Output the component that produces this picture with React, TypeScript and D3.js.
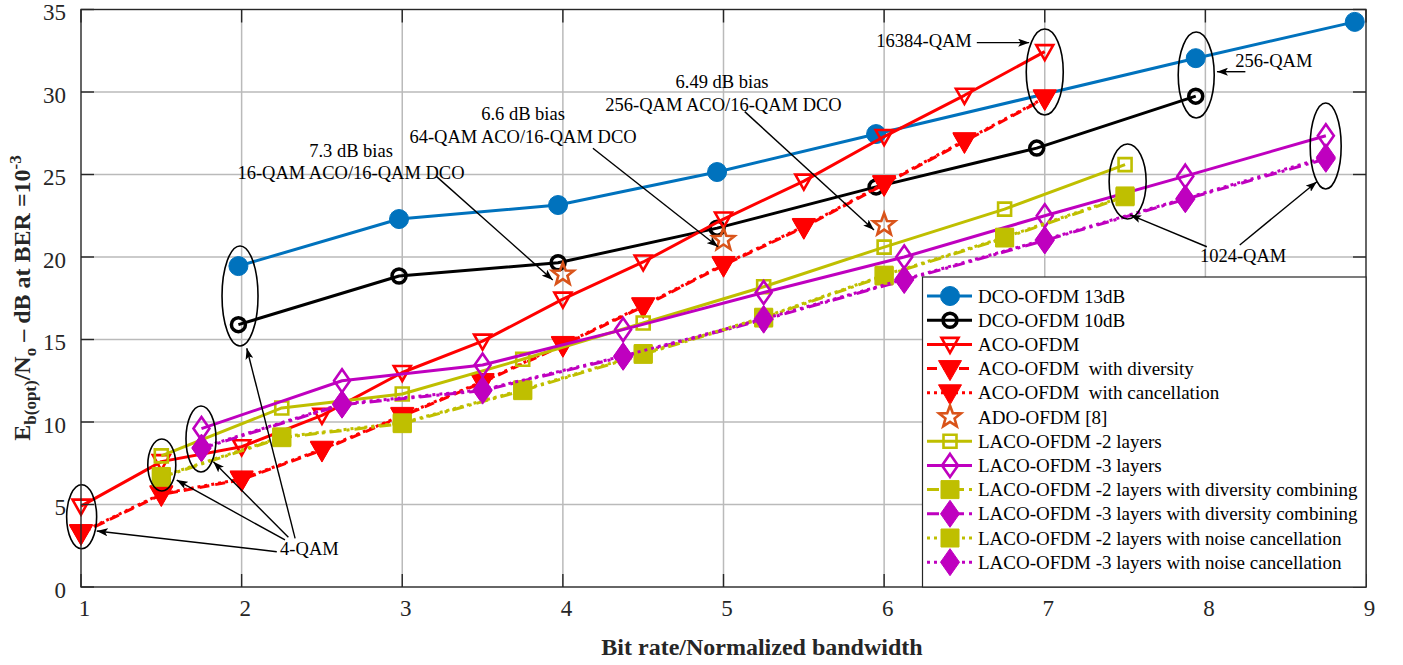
import React, { useEffect, useRef } from "react";
import { line, path, scaleLinear, ScaleLinear, select, Selection } from "d3";

const WIDTH = 1403;
const HEIGHT = 665;
const PLOT_LEFT = 81;
const PLOT_RIGHT = 1366;
const PLOT_TOP = 9.5;
const PLOT_BOTTOM = 587;
const TICK_LEN = 13;
const SERIES_WIDTH = 3;
const FONT = "'Liberation Serif', 'Times New Roman', serif";
const AXIS_COLOR = "#262626";
const GRID_COLOR = "#bababa";

const BLUE = "#0072BD";
const BLACK = "#000000";
const RED = "#FF0000";
const ORANGE = "#D95319";
const OLIVE = "#BFBF00";
const MAGENTA = "#BF00BF";

const X_DOMAIN = [1, 9];
const Y_DOMAIN = [0, 35];
const X_TICKS = [1, 2, 3, 4, 5, 6, 7, 8, 9];
const Y_TICKS = [0, 5, 10, 15, 20, 25, 30, 35];

// bit rates
const dco13X = [1.98, 2.98, 3.97, 4.96, 5.95, 7.94, 8.93];
const dco10X = [1.98, 2.98, 3.97, 4.96, 5.95, 6.95, 7.94];
const acoX = [1, 1.5, 2, 2.5, 3, 3.5, 4, 4.5, 5, 5.5, 6, 6.5, 7];
const adoX = [4, 5, 6];
const laco2X = [1.5, 2.25, 3, 3.75, 4.5, 5.25, 6, 6.75, 7.5];
const laco3X = [1.75, 2.625, 3.5, 4.375, 5.25, 6.125, 7, 7.875, 8.75];

// Eb(opt)/No in dB
const dco13Y = [19.45, 22.3, 23.15, 25.15, 27.45, 32.05, 34.25];
const dco10Y = [15.9, 18.85, 19.65, 21.75, 24.25, 26.6, 29.75];
const acoY = [4.9, 7.6, 8.5, 10.4, 13.0, 14.9, 17.45, 19.7, 22.3, 24.6, 27.3, 29.8, 32.45];
const acoDivY = [3.25, 5.6, 6.5, 8.3, 10.35, 12.4, 14.65, 17.0, 19.5, 21.8, 24.4, 27.0, 29.6];
const acoCanY = [3.3, 5.65, 6.55, 8.35, 10.4, 12.45, 14.7, 17.05, 19.55, 21.85, 24.45, 27.05, 29.65];
const adoY = [18.95, 21.05, 21.95];
const laco2Y = [7.95, 10.85, 11.7, 13.8, 16.0, 18.2, 20.6, 22.9, 25.6];
const laco3Y = [9.6, 12.5, 13.45, 15.6, 17.85, 20.0, 22.5, 24.9, 27.35];
const laco2DivY = [6.65, 9.05, 9.9, 11.9, 14.1, 16.3, 18.85, 21.15, 23.65];
const laco3DivY = [8.4, 11.05, 11.9, 13.95, 16.2, 18.6, 21.0, 23.5, 25.95];
const laco2CanY = [6.7, 9.1, 9.95, 11.95, 14.15, 16.35, 18.9, 21.2, 23.7];
const laco3CanY = [8.45, 11.1, 11.95, 14.0, 16.25, 18.65, 21.05, 23.55, 26.05];

const LEGEND_LABELS = [
    "DCO-OFDM 13dB",
    "DCO-OFDM 10dB",
    "ACO-OFDM",
    "ACO-OFDM  with diversity",
    "ACO-OFDM  with cancellation",
    "ADO-OFDM [8]",
    "LACO-OFDM -2 layers",
    "LACO-OFDM -3 layers",
    "LACO-OFDM -2 layers with diversity combining",
    "LACO-OFDM -3 layers with diversity combining",
    "LACO-OFDM -2 layers with noise cancellation",
    "LACO-OFDM -3 layers with noise cancellation",
];

// annotations, in data units
const ELLIPSES = [
    { x: 1.004, y: 4.26, rx: 15, ry: 32 },
    { x: 1.503, y: 7.39, rx: 14, ry: 26 },
    { x: 1.747, y: 8.97, rx: 15, ry: 33 },
    { x: 1.99, y: 17.64, rx: 18, ry: 50 },
    { x: 7.0, y: 31.21, rx: 18.5, ry: 43 },
    { x: 7.943, y: 31.03, rx: 18, ry: 43 },
    { x: 7.516, y: 24.58, rx: 18.5, ry: 37.5 },
    { x: 8.749, y: 26.73, rx: 15.5, ry: 43 },
];

const ARROWS = [
    [2.219, 2.14, 1.098, 3.39],
    [2.27, 2.85, 1.596, 6.48],
    [2.291, 3.01, 1.824, 7.59],
    [2.333, 2.95, 2.032, 14.47],
    [3.214, 24.87, 3.937, 18.61],
    [4.187, 26.59, 4.966, 20.62],
    [5.132, 28.81, 5.937, 21.64],
    [6.577, 32.99, 6.903, 32.99],
    [8.249, 31.23, 8.072, 31.23],
    [8.009, 20.62, 7.532, 22.55],
    [8.214, 20.73, 8.694, 24.56],
];

const NOTES = [
    { text: "4-QAM", x: 2.422, y: 1.94, anchor: "middle" },
    { text: "7.3 dB bias", x: 2.681, y: 26.06, anchor: "middle" },
    { text: "16-QAM ACO/16-QAM DCO", x: 2.681, y: 24.73, anchor: "middle" },
    { text: "6.6 dB bias", x: 3.752, y: 28.3, anchor: "middle" },
    { text: "64-QAM ACO/16-QAM DCO", x: 3.752, y: 26.91, anchor: "middle" },
    { text: "6.49 dB bias", x: 4.991, y: 30.24, anchor: "middle" },
    { text: "256-QAM ACO/16-QAM DCO", x: 5.0, y: 28.85, anchor: "middle" },
    { text: "16384-QAM", x: 6.546, y: 32.75, anchor: "end" },
    { text: "256-QAM", x: 8.186, y: 31.53, anchor: "start" },
    { text: "1024-QAM", x: 8.235, y: 19.72, anchor: "middle" },
];

type MarkerKind = "circle" | "triangle" | "square" | "diamond" | "star";

type Series = {
    label: string;
    xs: number[];
    ys: number[];
    color: string;
    dash: string | null;
    showLine: boolean;
    marker: MarkerKind;
    filled: boolean;
};

const DIVERSITY_DASH = "12,5,3,5";
const ACO_DASH = "10,6";
const DOT = "3,4";

const SERIES: Series[] = [
    { label: LEGEND_LABELS[0], xs: dco13X, ys: dco13Y, color: BLUE, dash: null, showLine: true, marker: "circle", filled: true },
    { label: LEGEND_LABELS[1], xs: dco10X, ys: dco10Y, color: BLACK, dash: null, showLine: true, marker: "circle", filled: false },
    { label: LEGEND_LABELS[2], xs: acoX, ys: acoY, color: RED, dash: null, showLine: true, marker: "triangle", filled: false },
    { label: LEGEND_LABELS[3], xs: acoX, ys: acoDivY, color: RED, dash: ACO_DASH, showLine: true, marker: "triangle", filled: true },
    { label: LEGEND_LABELS[4], xs: acoX, ys: acoCanY, color: RED, dash: DOT, showLine: true, marker: "triangle", filled: true },
    { label: LEGEND_LABELS[5], xs: adoX, ys: adoY, color: ORANGE, dash: null, showLine: false, marker: "star", filled: false },
    { label: LEGEND_LABELS[6], xs: laco2X, ys: laco2Y, color: OLIVE, dash: null, showLine: true, marker: "square", filled: false },
    { label: LEGEND_LABELS[7], xs: laco3X, ys: laco3Y, color: MAGENTA, dash: null, showLine: true, marker: "diamond", filled: false },
    { label: LEGEND_LABELS[8], xs: laco2X, ys: laco2DivY, color: OLIVE, dash: DIVERSITY_DASH, showLine: true, marker: "square", filled: true },
    { label: LEGEND_LABELS[9], xs: laco3X, ys: laco3DivY, color: MAGENTA, dash: DIVERSITY_DASH, showLine: true, marker: "diamond", filled: true },
    { label: LEGEND_LABELS[10], xs: laco2X, ys: laco2CanY, color: OLIVE, dash: DOT, showLine: true, marker: "square", filled: true },
    { label: LEGEND_LABELS[11], xs: laco3X, ys: laco3CanY, color: MAGENTA, dash: DOT, showLine: true, marker: "diamond", filled: true },
];

type G = Selection<SVGGElement, unknown, null, undefined>;

const App = () => {
    const svgRef = useRef<SVGSVGElement>(null);

    useEffect(() => {
        const svgEl = select(svgRef.current);
        svgEl.selectAll("*").remove();
        const xScale = scaleLinear().domain(X_DOMAIN).range([PLOT_LEFT, PLOT_RIGHT]);
        const yScale = scaleLinear().domain(Y_DOMAIN).range([PLOT_BOTTOM, PLOT_TOP]);
        setupDefs(svgEl);
        const root = svgEl.append("g");
        drawGrid(root, xScale, yScale);
        drawSeries(root, xScale, yScale);
        drawAnnotations(root, xScale, yScale);
        drawFrame(root, xScale, yScale);
        drawLegend(root);
        drawLabels(root);
    }, []);

    return (
        <svg
            ref={svgRef}
            width={WIDTH}
            height={HEIGHT}
            style={{ position: "absolute", left: 0, top: 0, background: "#fff" }}
        />
    );
};

const setupDefs = (svgEl: Selection<SVGSVGElement | null, unknown, null, undefined>) => {
    svgEl
        .append("defs")
        .append("marker")
        .attr("id", "arrowHead")
        .attr("markerUnits", "userSpaceOnUse")
        .attr("markerWidth", 11)
        .attr("markerHeight", 8)
        .attr("refX", 11)
        .attr("refY", 4)
        .attr("orient", "auto")
        .append("path")
        .attr("d", "M0,0 L11,4 L0,8 L2.5,4 Z")
        .attr("fill", "#000");
};

const drawGrid = (g: G, xScale: ScaleLinear<number, number>, yScale: ScaleLinear<number, number>) => {
    const grid = g.append("g");
    grid.selectAll(".vgrid")
        .data(X_TICKS.slice(1, -1))
        .enter()
        .append("line")
        .attr("x1", d => xScale(d))
        .attr("x2", d => xScale(d))
        .attr("y1", PLOT_TOP)
        .attr("y2", PLOT_BOTTOM)
        .attr("stroke", GRID_COLOR)
        .attr("stroke-width", 1.5);
    grid.selectAll(".hgrid")
        .data(Y_TICKS.slice(1, -1))
        .enter()
        .append("line")
        .attr("x1", PLOT_LEFT)
        .attr("x2", PLOT_RIGHT)
        .attr("y1", d => yScale(d))
        .attr("y2", d => yScale(d))
        .attr("stroke", GRID_COLOR)
        .attr("stroke-width", 1.5);
};

const markerPath = (kind: MarkerKind, filled: boolean): string => {
    const p = path();
    if (kind === "circle") {
        const r = filled ? 9.5 : 7;
        p.arc(0, 0, r, 0, Math.PI * 2);
    } else if (kind === "triangle") {
        const w = filled ? 11.5 : 8.5;
        const top = filled ? -8 : -6.5;
        const bottom = filled ? 12 : 8.5;
        p.moveTo(-w, top);
        p.lineTo(w, top);
        p.lineTo(0, bottom);
        p.closePath();
    } else if (kind === "square") {
        const s = filled ? 9 : 6.5;
        p.rect(-s, -s, 2 * s, 2 * s);
    } else if (kind === "diamond") {
        const w = filled ? 9.5 : 8;
        const h = filled ? 13.5 : 11.5;
        p.moveTo(0, -h);
        p.lineTo(w, 0);
        p.lineTo(0, h);
        p.lineTo(-w, 0);
        p.closePath();
    } else {
        for (let i = 0; i < 10; i++) {
            const r = i % 2 === 0 ? 11.5 : 4.8;
            const a = -Math.PI / 2 + (i * Math.PI) / 5;
            if (i === 0) p.moveTo(r * Math.cos(a), r * Math.sin(a));
            else p.lineTo(r * Math.cos(a), r * Math.sin(a));
        }
        p.closePath();
    }
    return p.toString();
};

const drawMarker = (g: G, s: Series, cx: number, cy: number) => {
    g.append("path")
        .attr("d", markerPath(s.marker, s.filled))
        .attr("transform", `translate(${cx},${cy})`)
        .attr("fill", s.filled ? s.color : "none")
        .attr("stroke", s.color)
        .attr("stroke-width", s.filled ? 1 : s.marker === "circle" ? 3.5 : 2.6)
        .attr("stroke-linejoin", "miter");
};

const drawSeries = (g: G, xScale: ScaleLinear<number, number>, yScale: ScaleLinear<number, number>) => {
    const lineFunc = line<[number, number]>()
        .x(d => xScale(d[0]))
        .y(d => yScale(d[1]));
    SERIES.forEach(s => {
        const pts = s.xs.map((x, i) => [x, s.ys[i]] as [number, number]);
        const sg = g.append("g");
        if (s.showLine) {
            sg.append("path")
                .attr("d", lineFunc(pts))
                .attr("fill", "none")
                .attr("stroke", s.color)
                .attr("stroke-width", SERIES_WIDTH)
                .attr("stroke-dasharray", s.dash)
                .attr("stroke-linejoin", "round");
        }
        pts.forEach(([x, y]) => drawMarker(sg, s, xScale(x), yScale(y)));
    });
};

const drawAnnotations = (g: G, xScale: ScaleLinear<number, number>, yScale: ScaleLinear<number, number>) => {
    const ag = g.append("g");
    ELLIPSES.forEach(e => {
        ag.append("ellipse")
            .attr("cx", xScale(e.x))
            .attr("cy", yScale(e.y))
            .attr("rx", e.rx)
            .attr("ry", e.ry)
            .attr("fill", "none")
            .attr("stroke", "#000")
            .attr("stroke-width", 1.6);
    });
    ARROWS.forEach(([x1, y1, x2, y2]) => {
        ag.append("line")
            .attr("x1", xScale(x1))
            .attr("y1", yScale(y1))
            .attr("x2", xScale(x2))
            .attr("y2", yScale(y2))
            .attr("stroke", "#000")
            .attr("stroke-width", 1.4)
            .attr("marker-end", "url(#arrowHead)");
    });
    NOTES.forEach(n => {
        ag.append("text")
            .attr("x", xScale(n.x))
            .attr("y", yScale(n.y))
            .attr("text-anchor", n.anchor)
            .attr("font-family", FONT)
            .attr("font-size", 18.5)
            .attr("fill", "#000")
            .text(n.text);
    });
};

const drawFrame = (g: G, xScale: ScaleLinear<number, number>, yScale: ScaleLinear<number, number>) => {
    const fg = g.append("g");
    fg.append("rect")
        .attr("x", PLOT_LEFT)
        .attr("y", PLOT_TOP)
        .attr("width", PLOT_RIGHT - PLOT_LEFT)
        .attr("height", PLOT_BOTTOM - PLOT_TOP)
        .attr("fill", "none")
        .attr("stroke", AXIS_COLOR)
        .attr("stroke-width", 1.4);
    X_TICKS.forEach(t => {
        const x = xScale(t);
        fg.append("line").attr("x1", x).attr("x2", x).attr("y1", PLOT_BOTTOM).attr("y2", PLOT_BOTTOM - TICK_LEN)
            .attr("stroke", AXIS_COLOR).attr("stroke-width", 1.4);
        fg.append("line").attr("x1", x).attr("x2", x).attr("y1", PLOT_TOP).attr("y2", PLOT_TOP + TICK_LEN)
            .attr("stroke", AXIS_COLOR).attr("stroke-width", 1.4);
        fg.append("text")
            .attr("x", x + 3.5)
            .attr("y", 616)
            .attr("text-anchor", "middle")
            .attr("font-family", FONT)
            .attr("font-size", 23)
            .attr("fill", AXIS_COLOR)
            .text(t);
    });
    Y_TICKS.forEach(t => {
        const y = yScale(t);
        fg.append("line").attr("x1", PLOT_LEFT).attr("x2", PLOT_LEFT + TICK_LEN).attr("y1", y).attr("y2", y)
            .attr("stroke", AXIS_COLOR).attr("stroke-width", 1.4);
        fg.append("line").attr("x1", PLOT_RIGHT).attr("x2", PLOT_RIGHT - TICK_LEN).attr("y1", y).attr("y2", y)
            .attr("stroke", AXIS_COLOR).attr("stroke-width", 1.4);
        fg.append("text")
            .attr("x", 66)
            .attr("y", y + 10.5)
            .attr("text-anchor", "end")
            .attr("font-family", FONT)
            .attr("font-size", 23)
            .attr("fill", AXIS_COLOR)
            .text(t);
    });
};

const drawLegend = (g: G) => {
    const lg = g.append("g");
    const left = 922.5;
    const top = 277;
    lg.append("rect")
        .attr("x", left)
        .attr("y", top)
        .attr("width", PLOT_RIGHT - left)
        .attr("height", PLOT_BOTTOM - top)
        .attr("fill", "#fff")
        .attr("stroke", AXIS_COLOR)
        .attr("stroke-width", 1.2);
    SERIES.forEach((s, i) => {
        const cy = 296 + i * 24.2;
        if (s.showLine) {
            lg.append("line")
                .attr("x1", 927)
                .attr("x2", 972)
                .attr("y1", cy)
                .attr("y2", cy)
                .attr("stroke", s.color)
                .attr("stroke-width", SERIES_WIDTH)
                .attr("stroke-dasharray", s.dash);
        }
        drawMarker(lg, s, 950, cy);
        lg.append("text")
            .attr("x", 978)
            .attr("y", cy + 6.5)
            .attr("font-family", FONT)
            .attr("font-size", 19)
            .attr("fill", "#000")
            .style("white-space", "pre")
            .text(s.label);
    });
};

const drawLabels = (g: G) => {
    g.append("text")
        .attr("x", 762)
        .attr("y", 655)
        .attr("text-anchor", "middle")
        .attr("font-family", FONT)
        .attr("font-weight", "bold")
        .attr("font-size", 24)
        .attr("fill", AXIS_COLOR)
        .text("Bit rate/Normalized bandwidth");

    const yl = g.append("text")
        .attr("transform", "translate(30,298) rotate(-90)")
        .attr("text-anchor", "middle")
        .attr("font-family", FONT)
        .attr("font-weight", "bold")
        .attr("font-size", 24)
        .attr("fill", AXIS_COLOR)
        .style("white-space", "pre");
    yl.append("tspan").text("E");
    yl.append("tspan").attr("font-size", 17).attr("dy", 6).text("b(opt)");
    yl.append("tspan").attr("dy", -6).text("/N");
    yl.append("tspan").attr("font-size", 17).attr("dy", 6).text("o");
    yl.append("tspan").attr("dy", -6).text(" \u2013 dB at BER =10");
    yl.append("tspan").attr("font-size", 17).attr("dy", -9).text("-3");
};

export default App;
